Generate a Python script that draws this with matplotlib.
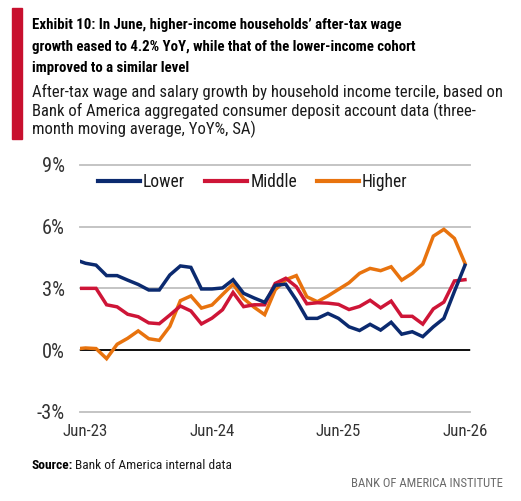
import matplotlib
matplotlib.use('Agg')
import matplotlib.pyplot as plt
from matplotlib import font_manager
from matplotlib.patches import Rectangle

# ---------------- data ----------------
months = ['May-23', 'Jun-23', 'Jul-23', 'Aug-23', 'Sep-23', 'Oct-23', 'Nov-23', 'Dec-23',
          'Jan-24', 'Feb-24', 'Mar-24', 'Apr-24', 'May-24', 'Jun-24', 'Jul-24', 'Aug-24',
          'Sep-24', 'Oct-24', 'Nov-24', 'Dec-24', 'Jan-25', 'Feb-25', 'Mar-25', 'Apr-25',
          'May-25', 'Jun-25', 'Jul-25', 'Aug-25', 'Sep-25', 'Oct-25', 'Nov-25', 'Dec-25',
          'Jan-26', 'Feb-26', 'Mar-26', 'Apr-26', 'May-26', 'Jun-26']
lower = [4.40, 4.22, 4.13, 3.62, 3.62, 3.40, 3.19, 2.92, 2.92, 3.65, 4.09, 4.02, 2.97,
         2.97, 3.02, 3.42, 2.76, 2.53, 2.32, 3.15, 3.20, 2.43, 1.54, 1.54, 1.78, 1.54,
         1.13, 0.95, 1.25, 0.97, 1.35, 0.77, 0.89, 0.65, 1.13, 1.54, 2.85, 4.12]
middle = [3.00, 3.00, 3.00, 2.20, 2.10, 1.74, 1.62, 1.32, 1.28, 1.70, 2.14, 1.90, 1.27,
          1.55, 1.96, 2.80, 2.11, 2.20, 2.20, 3.24, 3.49, 3.08, 2.25, 2.30, 2.28, 2.22,
          1.97, 2.12, 2.42, 2.05, 2.38, 1.64, 1.64, 1.26, 2.00, 2.33, 3.36, 3.42]
higher = [0.05, 0.10, 0.07, -0.42, 0.28, 0.57, 0.93, 0.55, 0.47, 1.15, 2.40, 2.63, 2.04,
          2.19, 2.70, 3.20, 2.50, 2.08, 1.72, 2.93, 3.42, 3.62, 2.59, 2.35, 2.63, 2.95,
          3.27, 3.73, 3.97, 3.86, 4.05, 3.40, 3.73, 4.18, 5.54, 5.87, 5.43, 4.22]
series_names = ['Lower', 'Middle', 'Higher']
x_tick_labels = ['Jun-23', 'Jun-24', 'Jun-25', 'Jun-26']
y_ticks = [-3, 0, 3, 6, 9]
y_tick_labels = ['-3%', '0%', '3%', '6%', '9%']

title_lines = ["Exhibit 10: In June, higher-income households\u2019 after-tax wage",
               "growth eased to 4.2% YoY, while that of the lower-income cohort",
               "improved to a similar level"]
subtitle_lines = ["After-tax wage and salary growth by household income tercile, based on",
                  "Bank of America aggregated consumer deposit account data (three-",
                  "month moving average, YoY%, SA)"]

# ---------------- styling ----------------
C_LOWER = '#0B2A6F'
C_MIDDLE = '#CE1537'
C_HIGHER = '#E8730E'
BAR_RED = '#C8102E'

# pick a narrow / condensed sans face if one is installed
FAMILY, STRETCH = 'Roboto', 'normal'
ttf = font_manager.fontManager.ttflist
prefs = ['Liberation Sans Narrow', 'Roboto Condensed', 'Noto Sans', 'Open Sans',
         'DejaVu Sans', 'Roboto', 'Lato', 'Inter']
found = False
for pref in prefs:
    for f in ttf:
        st = str(f.stretch).lower()
        if f.name == pref and ('narrow' in f.name.lower() or 'condensed' in f.name.lower()
                               or st in ('condensed', 'semi-condensed', 'extra-condensed',
                                         'ultra-condensed')):
            FAMILY = f.name
            STRETCH = st if st in ('condensed', 'semi-condensed', 'extra-condensed',
                                   'ultra-condensed') else 'normal'
            found = True
            break
    if found:
        break
if not found:
    for f in ttf:
        if 'narrow' in f.name.lower() or 'condensed' in f.name.lower():
            FAMILY, STRETCH = f.name, 'normal'
            break

plt.rcParams['font.family'] = [FAMILY, 'DejaVu Sans']
plt.rcParams['font.stretch'] = STRETCH

W, H = 521, 501
fig = plt.figure(figsize=(W / 100, H / 100), dpi=100)
fig.patch.set_facecolor('white')
renderer = fig.canvas.get_renderer()


def size_for(s, target_w, weight='normal'):
    t = fig.text(0, 0, s, fontsize=10, fontweight=weight)
    w = t.get_window_extent(renderer).width
    t.remove()
    return 10 * target_w / w


def fx(px):
    return px / W


def fy(py):
    return 1 - py / H


# red bar
fig.patches.append(Rectangle((fx(12), fy(139)), fx(22) - fx(12), fy(8) - fy(139),
                             transform=fig.transFigure, color=BAR_RED, zorder=1))

# title
ts = size_for(title_lines[0], 370, 'bold')
for line, base in zip(title_lines, [29.3, 50.5, 71.7]):
    fig.text(fx(31.7), fy(base), line, fontsize=ts, fontweight='bold', color='#000000',
             va='baseline', ha='left')

ss = size_for(subtitle_lines[0], 468)
for line, base in zip(subtitle_lines, [96.7, 116.5, 134.5]):
    fig.text(fx(31.7), fy(base), line, fontsize=ss, color='#1A1A1A',
             va='baseline', ha='left')

# axes
ax = fig.add_axes([fx(80), fy(411.7), fx(470) - fx(80), fy(165) - fy(411.7)])
x = list(range(len(months)))
ax.plot(x, lower, color=C_LOWER, lw=2.5, label=series_names[0], solid_joinstyle='miter', zorder=5)
ax.plot(x, middle, color=C_MIDDLE, lw=2.5, label=series_names[1], solid_joinstyle='miter', zorder=4)
ax.plot(x, higher, color=C_HIGHER, lw=2.5, label=series_names[2], solid_joinstyle='miter', zorder=3)

ax.set_ylim(-3, 9)
ax.set_xlim(0.478, 37.48)
ax.set_yticks(y_ticks)
tick_fs = size_for('Jun-23', 45.6)
ytick_fs = size_for('-3%', 28)
ax.set_yticklabels(y_tick_labels, fontsize=ytick_fs, color='#333333')
ax.set_xticks([months.index(m) for m in x_tick_labels])
ax.set_xticklabels(x_tick_labels, fontsize=tick_fs, color='#333333')
ax.tick_params(axis='both', length=0)
ax.tick_params(axis='x', pad=9)
ax.tick_params(axis='y', pad=11)
for sp in ax.spines.values():
    sp.set_visible(False)
ax.grid(axis='y', color='#BFBFBF', lw=1.3)
ax.grid(axis='x', visible=False)
for gl in ax.get_ygridlines():
    gl.set_clip_on(False)
ax.axhline(0, color='#000000', lw=1.3, zorder=2)
ax.set_facecolor('none')

leg_fs = size_for('Lower', 42)
leg = ax.legend(loc='center left', bbox_to_anchor=(fx(98), fy(182.3)),
                bbox_transform=fig.transFigure, ncol=3, frameon=False,
                fontsize=leg_fs, handlelength=42 / (leg_fs / 0.72),
                handletextpad=3 / (leg_fs / 0.72), columnspacing=20 / (leg_fs / 0.72),
                borderpad=0, borderaxespad=0)
for t in leg.get_texts():
    t.set_color('#1A1A1A')
for h in leg.legend_handles:
    h.set_linewidth(3.0)

# source & branding
src_fs = size_for('Source:', 41, 'bold')
t1 = fig.text(fx(31.7), fy(469), 'Source:', fontsize=src_fs, fontweight='bold',
              color='#000000', va='baseline', ha='left')
w1 = t1.get_window_extent(renderer).width
fig.text(fx(31.7 + w1 + 2), fy(469), 'Bank of America internal data', fontsize=src_fs,
         color='#1A1A1A', va='baseline', ha='left')

br_fs = size_for('BANK OF AMERICA INSTITUTE', 152)
fig.text(fx(503.3), fy(486.7), 'BANK OF AMERICA INSTITUTE', fontsize=br_fs,
         color='#6B6B6B', va='baseline', ha='right')

fig.savefig('out.png', dpi=100, facecolor='white')
